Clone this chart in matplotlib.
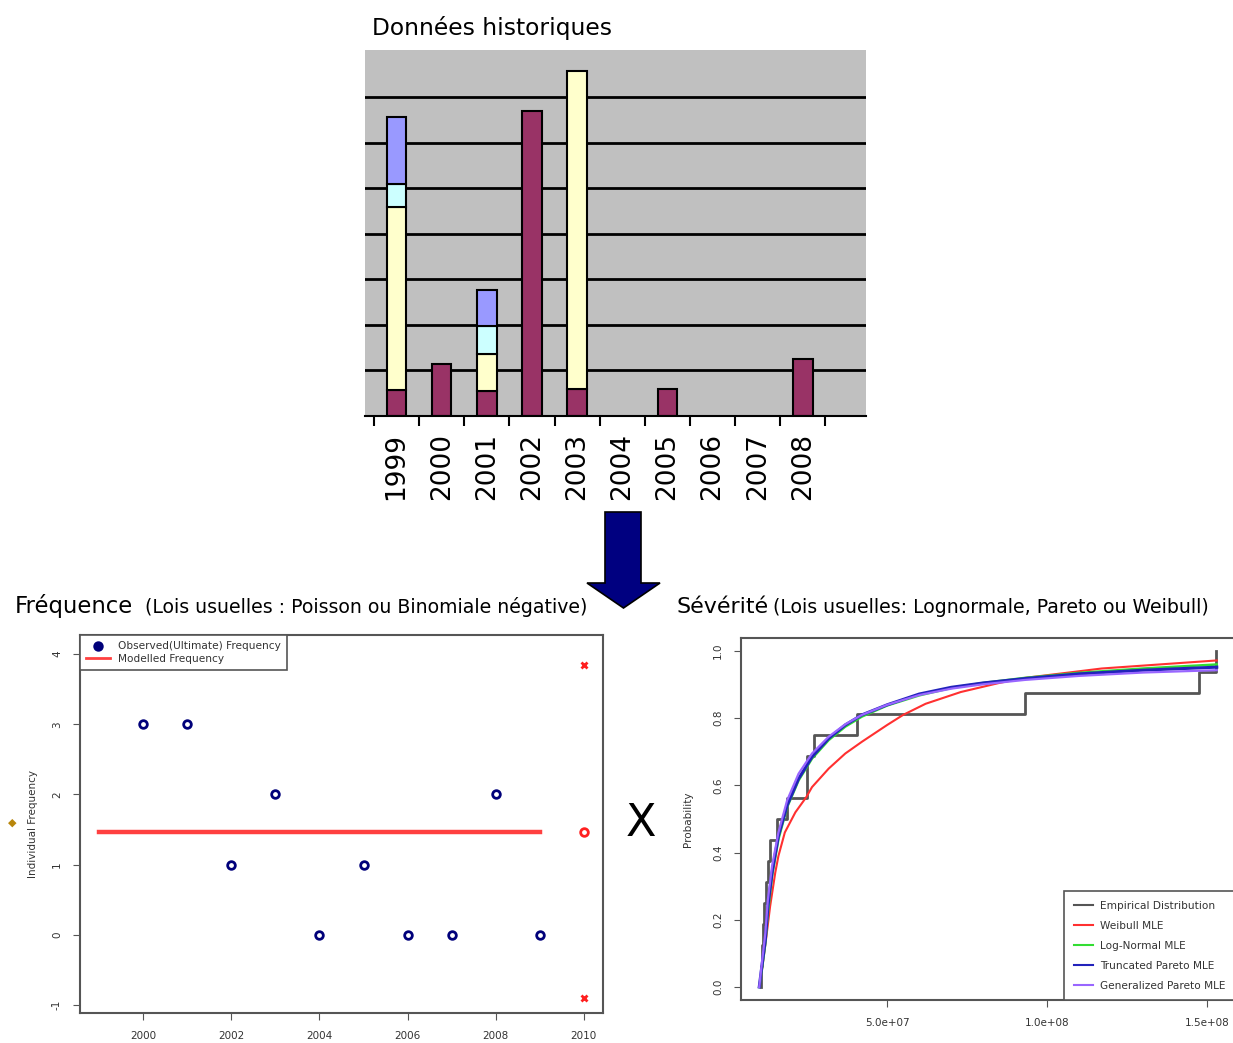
import numpy as np
import matplotlib
matplotlib.use("Agg")
import matplotlib.pyplot as plt
from matplotlib.patches import Polygon
from matplotlib.lines import Line2D

# ---------------- data ----------------
years = ['1999', '2000', '2001', '2002', '2003', '2004', '2005', '2006', '2007', '2008']
hist_maroon = [0.56, 1.15, 0.55, 6.70, 0.60, 0.0, 0.60, 0.0, 0.0, 1.24]
hist_yellow = [4.02, 0.0, 0.82, 0.0, 6.96, 0.0, 0.0, 0.0, 0.0, 0.0]
hist_cyan = [0.51, 0.0, 0.60, 0.0, 0.0, 0.0, 0.0, 0.0, 0.0, 0.0]
hist_blue = [1.47, 0.0, 0.79, 0.0, 0.0, 0.0, 0.0, 0.0, 0.0, 0.0]

obs_years = [2000, 2001, 2002, 2003, 2004, 2005, 2006, 2007, 2008, 2009]
obs_freq = [3, 3, 1, 2, 0, 1, 0, 0, 2, 0]
model_years = [1999, 2009]
model_freq = [1.47, 1.47]
forecast_year = [2010]
forecast_mean = [1.47]
forecast_bounds = [3.85, -0.90]
freq_xticks = [2000, 2002, 2004, 2006, 2008, 2010]
freq_yticks = [-1, 0, 1, 2, 3, 4]

# severities (units of 1e7)
sev_losses = [1.05, 1.08, 1.12, 1.16, 1.22, 1.28, 1.34, 1.55, 1.87, 2.48, 2.50,
              2.70, 4.05, 9.30, 14.74, 15.28]
weib_x = [1.00, 1.07, 1.21, 1.34, 1.50, 1.60, 1.80, 2.13, 2.47, 2.65, 3.17, 3.69,
          4.21, 5.00, 5.50, 6.20, 7.30, 8.50, 9.30, 11.7, 15.3]
weib_p = [0.00, 0.04, 0.14, 0.24, 0.34, 0.39, 0.46, 0.52, 0.565, 0.595, 0.65, 0.695,
          0.73, 0.78, 0.81, 0.843, 0.878, 0.905, 0.92, 0.948, 0.972]
fit_x = [1.00, 1.08, 1.19, 1.27, 1.40, 1.60, 1.87, 2.23, 2.65, 3.17, 3.69, 4.21,
         5.00, 6.00, 7.00, 8.00, 9.30, 11.0, 13.0, 15.3]
lnorm_p = [0.00, 0.05, 0.13, 0.22, 0.33, 0.44, 0.535, 0.615, 0.68, 0.735, 0.775, 0.805,
           0.838, 0.868, 0.89, 0.905, 0.92, 0.935, 0.948, 0.96]
tpareto_p = [0.00, 0.06, 0.14, 0.24, 0.34, 0.45, 0.54, 0.62, 0.685, 0.74, 0.78, 0.81,
             0.84, 0.872, 0.892, 0.905, 0.918, 0.932, 0.943, 0.952]
gpareto_p = [0.00, 0.07, 0.16, 0.26, 0.36, 0.46, 0.555, 0.635, 0.695, 0.745, 0.782, 0.81,
             0.84, 0.869, 0.888, 0.901, 0.914, 0.926, 0.936, 0.943]
sev_unit = 1e7
sev_xticks = [5e7, 1e8, 1.5e8]
sev_xticklabels = ['5.0e+07', '1.0e+08', '1.5e+08']
sev_yticks = [0.0, 0.2, 0.4, 0.6, 0.8, 1.0]

# ---------------- figure ----------------
W, H = 1233, 1043
fig = plt.figure(figsize=(W / 100, H / 100), dpi=100)
fig.patch.set_facecolor('white')


def box(l, t, r, b):
    return [l / W, 1 - b / H, (r - l) / W, (b - t) / H]


def fx(x):
    return x / W


def fy(y):
    return 1 - y / H


# ---------- top: historical stacked bars ----------
ax = fig.add_axes(box(365, 50, 866, 416))
ax.set_facecolor('#c0c0c0')
xpos = np.arange(len(years))
bw = 0.43
bottom = np.zeros(len(years))
for vals, col in [(hist_maroon, '#993366'), (hist_yellow, '#ffffcc'),
                  (hist_cyan, '#ccffff'), (hist_blue, '#9999ff')]:
    v = np.array(vals)
    m = v > 0
    ax.bar(xpos[m], v[m], bw, bottom=bottom[m], color=col, edgecolor='black',
           linewidth=1.5, zorder=3)
    bottom = bottom + v
ax.set_xlim(-0.7, 10.4)
ax.set_ylim(0, 8.03)
ax.set_yticks(range(1, 8))
ax.yaxis.grid(True, color='black', linewidth=2)
ax.set_axisbelow(True)
ax.tick_params(axis='y', left=False, labelleft=False)
for s in ['left', 'top', 'right']:
    ax.spines[s].set_visible(False)
ax.spines['bottom'].set_color('black')
ax.spines['bottom'].set_linewidth(1.5)
ax.spines['bottom'].set_zorder(4)
ax.set_xticks(np.arange(-0.5, 10.0, 1.0))
ax.set_xticklabels([])
ax.tick_params(axis='x', which='major', length=7, width=1.5, color='black')
ax.set_xticks(xpos, minor=True)
ax.set_xticklabels(years, minor=True, rotation=90, fontsize=19)
ax.tick_params(axis='x', which='minor', length=0, pad=12)

fig.text(fx(372), fy(28), 'Données historiques', fontsize=16.8, ha='left', va='center')

# arrow
arrow_pts = [(605, 512), (641, 512), (641, 583), (660, 583), (623.5, 608),
             (587, 583), (605, 583)]
fig.add_artist(Polygon([(fx(a), fy(b)) for a, b in arrow_pts], closed=True,
                       facecolor='#000080', edgecolor='black', linewidth=1.2,
                       transform=fig.transFigure))

# titles of lower panels
fig.text(fx(15), fy(613), 'Fréquence', fontsize=16.4, ha='left', va='baseline')
fig.text(fx(145), fy(613), '(Lois usuelles : Poisson ou Binomiale négative)',
         fontsize=13.6, ha='left', va='baseline')
fig.text(fx(677), fy(613), 'Sévérité', fontsize=15.9, ha='left', va='baseline')
fig.text(fx(773), fy(613), '(Lois usuelles: Lognormale, Pareto ou Weibull)',
         fontsize=13.6, ha='left', va='baseline')
fig.text(fx(641), fy(824), 'X', fontsize=32, ha='center', va='center')
fig.text(fx(12), fy(823), '◆', fontsize=8, color='#b8860b', ha='center', va='center')

txtc = '#333333'
framec = '#555555'

# ---------- bottom left: frequency ----------
ax2 = fig.add_axes(box(80, 635, 603, 1013))
ax2.plot(model_years, model_freq, color='#ff4040', linewidth=3.2, zorder=2)
ax2.plot(obs_years, obs_freq, linestyle='none', marker='o', markersize=5.5,
         markerfacecolor='none', markeredgecolor='#00007a', markeredgewidth=2, zorder=3)
ax2.plot(forecast_year, forecast_mean, linestyle='none', marker='o', markersize=5.5,
         markerfacecolor='none', markeredgecolor='#ff2020', markeredgewidth=2, zorder=3)
ax2.plot(forecast_year * 2, forecast_bounds, linestyle='none', marker='x', markersize=5,
         color='#ff2020', markeredgewidth=2, zorder=3)
ax2.set_xlim(1998.56, 2010.44)
ax2.set_ylim(-1.11, 4.27)
ax2.set_xticks(freq_xticks)
ax2.set_xticklabels([str(v) for v in freq_xticks], fontsize=7.5, color=txtc)
ax2.set_yticks(freq_yticks)
ax2.set_yticklabels([str(v) for v in freq_yticks], fontsize=7.5, color=txtc,
                    rotation=90, va='center')
ax2.tick_params(length=5, color=framec, pad=8)
for s in ax2.spines.values():
    s.set_color(framec)
    s.set_linewidth(1.5)
ax2.set_ylabel('Individual Frequency', fontsize=7.5, color=txtc, labelpad=10)
h1 = Line2D([], [], linestyle='none', marker='o', markersize=5.5, markerfacecolor='#00007a',
            markeredgecolor='#00007a', markeredgewidth=2)
h2 = Line2D([], [], color='#ff4040', linewidth=2)
leg = ax2.legend([h1, h2], ['Observed(Ultimate) Frequency', 'Modelled Frequency'],
                 loc='upper left', borderaxespad=0, fontsize=7.6, fancybox=False,
                 edgecolor=framec, framealpha=1, handlelength=2.2, borderpad=0.6,
                 labelspacing=0.25)
leg.get_frame().set_linewidth(1.2)
for t in leg.get_texts():
    t.set_color(txtc)

# ---------- bottom right: severity ----------
ax3 = fig.add_axes(box(741, 637.6, 1235, 1000.4))
losses = np.array(sev_losses) * sev_unit
n = len(losses)
ecdf = np.arange(1, n + 1) / n
ax3.step(np.r_[losses[0], losses], np.r_[0.0, ecdf], where='post', color='#555555',
         linewidth=2, zorder=2)
ax3.plot(np.array(weib_x) * sev_unit, weib_p, color='#ff3030', linewidth=1.5, zorder=3)
ax3.plot(np.array(fit_x) * sev_unit, lnorm_p, color='#33dd33', linewidth=1.8, zorder=3)
ax3.plot(np.array(fit_x) * sev_unit, tpareto_p, color='#2222bb', linewidth=2.2, zorder=4)
ax3.plot(np.array(fit_x) * sev_unit, gpareto_p, color='#9966ff', linewidth=1.6, zorder=5)
ax3.set_xlim(0.43e7, 1.587e8)
ax3.set_ylim(-0.04, 1.04)
ax3.set_xticks(sev_xticks)
ax3.set_xticklabels(sev_xticklabels, fontsize=7.5, color=txtc)
ax3.set_yticks(sev_yticks)
ax3.set_yticklabels(['%.1f' % v for v in sev_yticks], fontsize=7.5, color=txtc,
                    rotation=90, va='center')
ax3.tick_params(length=5, color=framec, pad=8)
for s in ax3.spines.values():
    s.set_color(framec)
    s.set_linewidth(1.5)
ax3.set_ylabel('Probability', fontsize=7.5, color=txtc, labelpad=14)
hs = [Line2D([], [], color=c, linewidth=1.5) for c in
      ['#555555', '#ff3030', '#33dd33', '#2222bb', '#9966ff']]
leg3 = ax3.legend(hs, ['Empirical Distribution', 'Weibull MLE', 'Log-Normal MLE',
                       'Truncated Pareto MLE', 'Generalized Pareto MLE'],
                  loc='lower right', borderaxespad=0, fontsize=7.6, fancybox=False,
                  edgecolor=framec, framealpha=1, handlelength=1.8, borderpad=0.9,
                  labelspacing=0.95, handletextpad=0.7)
leg3.get_frame().set_linewidth(1.2)
for t in leg3.get_texts():
    t.set_color(txtc)

fig.savefig('out.png', dpi=100)
